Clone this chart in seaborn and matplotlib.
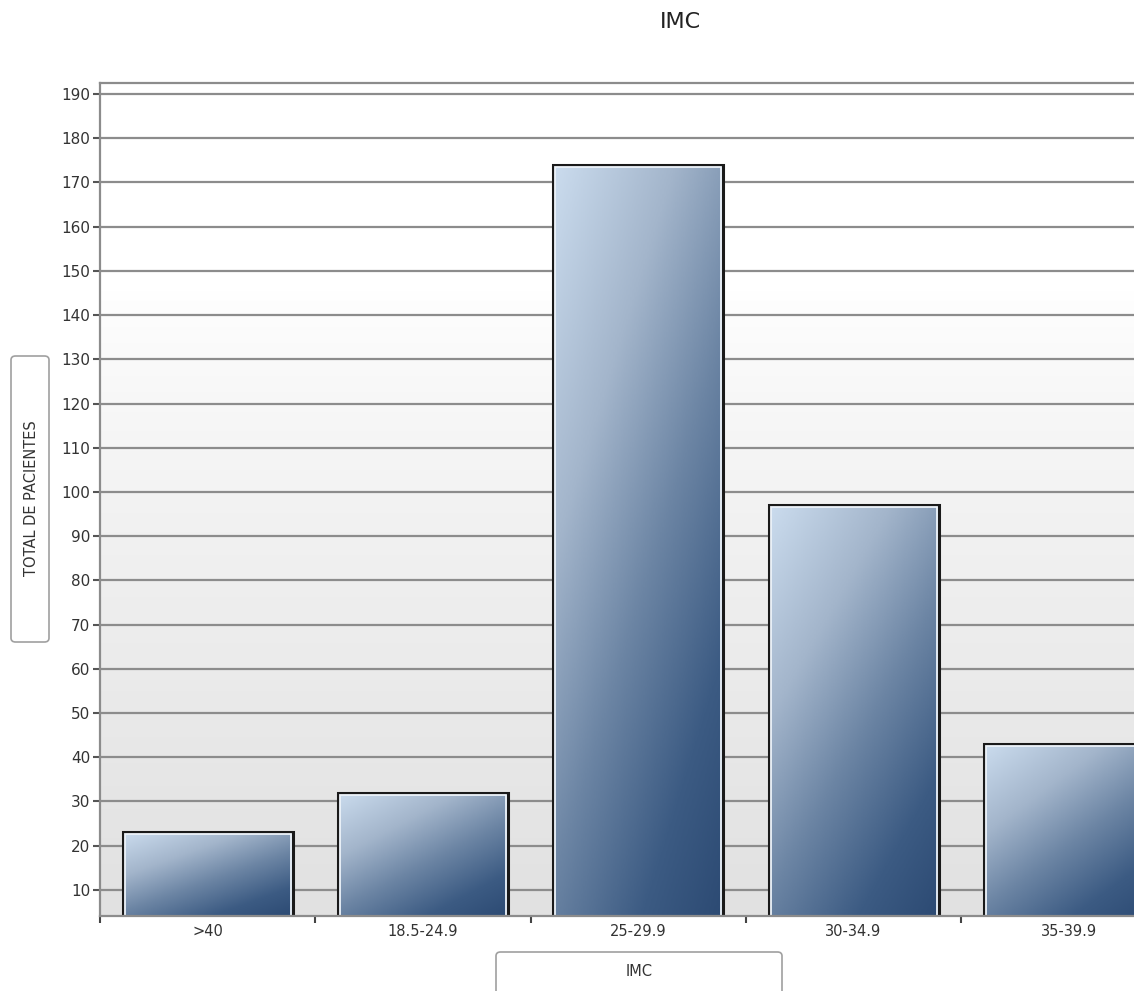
import numpy as np
import pandas as pd
import matplotlib
matplotlib.use('Agg')
import matplotlib.pyplot as plt
import seaborn as sns
from matplotlib.colors import LinearSegmentedColormap
from matplotlib.patches import Rectangle, FancyBboxPatch

categorias = ['>40', '18.5-24.9', '25-29.9', '30-34.9', '35-39.9']
pacientes = [23, 32, 174, 97, 43]
titulo = 'IMC'
etiqueta_y = 'TOTAL DE PACIENTES'
etiqueta_x = 'IMC'

df = pd.DataFrame({'imc': categorias, 'total': pacientes})

sns.set_style('white')
plt.rcParams['font.family'] = ['DejaVu Sans']

W, H = 1134, 991
CAT_PX = 215.3          # ancho en píxeles de cada categoría
AX_W = CAT_PX * len(categorias)   # el eje se sale por la derecha de la figura
XLIM = (-0.5, len(categorias) - 0.5)
YLIM = (4.1, 192.5)

fig = plt.figure(figsize=(W / 100, H / 100), dpi=100)
ax = fig.add_axes([100 / W, (H - 916) / H, AX_W / W, (916 - 83) / H])

sns.barplot(data=df, x='imc', y='total', ax=ax, width=0.79, color='#3a5a84',
            edgecolor='none', linewidth=0, zorder=3)

# fondo degradado blanco -> gris
g = np.linspace(0, 1, 256)
bg = np.clip((g - 0.25) / 0.75, 0, 1) ** 0.8
bg_cmap = LinearSegmentedColormap.from_list('bg', ['#ffffff', '#e1e1e1'])
ax.imshow(bg[:, None], extent=(0, 1, 0, 1), transform=ax.transAxes, aspect='auto',
          cmap=bg_cmap, zorder=0, origin='upper')

ax.set_yticks(np.arange(10, 191, 10))
ax.yaxis.grid(True, color='#8c8c8c', linewidth=1.6, zorder=1)
ax.set_axisbelow(True)

# degradado de las barras
bar_cmap = LinearSegmentedColormap.from_list(
    'bar', [(0.0, '#cbdcee'), (0.3, '#a3b5cb'), (0.55, '#6c85a4'),
            (0.8, '#3c5b83'), (1.0, '#2c4a73')])
ny, nx = 300, 80
u = np.linspace(0, 1, nx)[None, :]
v = np.linspace(0, 1, ny)[:, None]
grad = 0.42 * u + 0.58 * v

px_x = (XLIM[1] - XLIM[0]) / AX_W
px_y = (YLIM[1] - YLIM[0]) / (916 - 83)

for p in list(ax.patches):
    x0, y0 = p.get_x(), p.get_y()
    w, h = p.get_width(), p.get_height()
    top = y0 + h
    im = ax.imshow(grad, extent=(x0, x0 + w, YLIM[0], top), aspect='auto',
                   cmap=bar_cmap, vmin=0, vmax=1, origin='upper', zorder=3.5)
    im.set_clip_path(p)
    ax.add_patch(Rectangle((x0, YLIM[0] - 2), w, top - YLIM[0] + 2,
                           fill=False, edgecolor='#1a1a1a', linewidth=2.2, zorder=4))
    ax.add_patch(Rectangle((x0 + 2.0 * px_x, YLIM[0] - 2), w - 4.0 * px_x,
                           top - 2.0 * px_y - YLIM[0] + 2,
                           fill=False, edgecolor='#eef4fa', linewidth=1.3, zorder=4))

ax.set_xlim(*XLIM)
ax.set_ylim(*YLIM)
ax.set_xlabel('')
ax.set_ylabel('')

for s in ['left', 'bottom', 'top']:
    ax.spines[s].set_color('#8c8c8c')
    ax.spines[s].set_linewidth(1.6)
    ax.spines[s].set_visible(True)
    ax.spines[s].set_zorder(5)
ax.spines['right'].set_visible(False)

ax.tick_params(axis='y', length=5, width=1.5, color='#555555', labelsize=11,
               labelcolor='#333333', pad=2, left=True)
ax.set_xticks(np.arange(len(categorias)))
ax.set_xticklabels(categorias)
ax.set_xticks(np.arange(-0.5, len(categorias), 1), minor=True)
ax.tick_params(axis='x', which='major', length=0, labelsize=10.5, labelcolor='#333333', pad=6)
ax.tick_params(axis='x', which='minor', length=5, width=1.5, color='#444444', bottom=True)

fig.text(680 / W, 1 - 22 / H, titulo, ha='center', va='center', fontsize=16, color='#222222')

# cajas de las etiquetas de los ejes
box_y = FancyBboxPatch((11 / W, 1 - 642 / H), 38 / W, 286 / H,
                       boxstyle='round,pad=0,rounding_size=0.004', transform=fig.transFigure,
                       facecolor='white', edgecolor='#a0a0a0', linewidth=1.2)
fig.patches.append(box_y)
fig.text(32 / W, 1 - 498 / H, etiqueta_y, rotation=90, ha='center', va='center',
         fontsize=10.5, color='#333333')

box_x = FancyBboxPatch((496 / W, 1 - 1000 / H), 286 / W, 48 / H,
                       boxstyle='round,pad=0,rounding_size=0.004', transform=fig.transFigure,
                       facecolor='white', edgecolor='#a0a0a0', linewidth=1.2)
fig.patches.append(box_x)
fig.text(639 / W, 1 - 971 / H, etiqueta_x, ha='center', va='center',
         fontsize=10.5, color='#333333')

fig.savefig('out.png', dpi=100)
